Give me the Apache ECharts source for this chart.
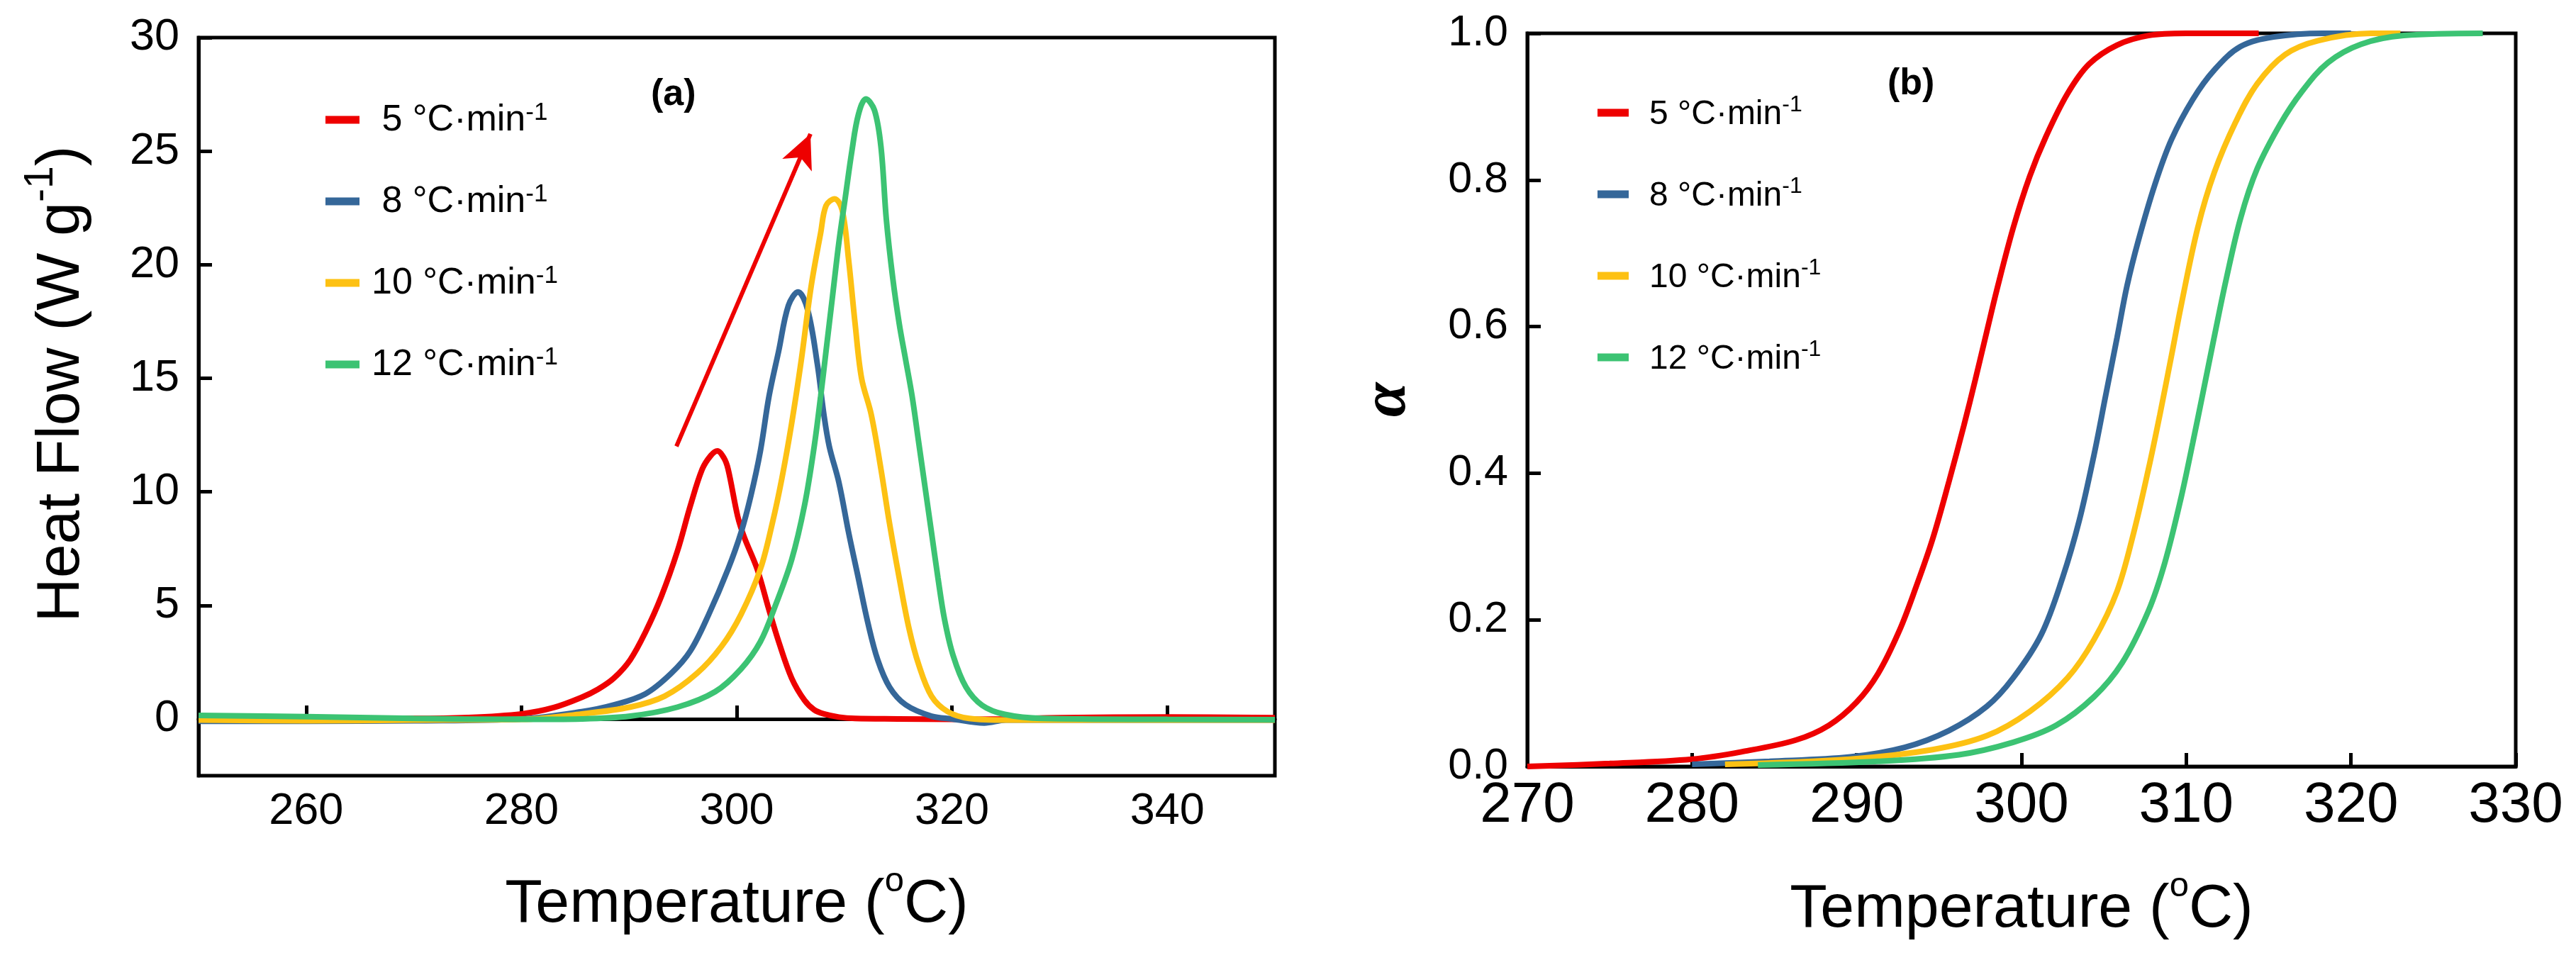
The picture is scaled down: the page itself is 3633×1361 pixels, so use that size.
<!DOCTYPE html>
<html>
<head>
<meta charset="utf-8">
<script src="https://cdn.jsdelivr.net/npm/echarts@6.0.0/dist/echarts.min.js"></script>
<style>
html, body { margin: 0; padding: 0; background: #fff; }
#main { width: 3633px; height: 1361px; }
</style>
</head>
<body>
<div id="main"></div>
<script>
// heating rates and their colours
var rates = ['5', '8', '10', '12'];
var colors = ['#ee0000', '#356799', '#fdc113', '#3cc373'];

// (a) DSC heat flow, W/g
var t5  = [250, 260, 270, 275, 280, 283, 285.6, 287.1, 288.6, 290.1, 291.5, 293.0, 294.5, 295.7, 296.8, 297.6, 298.2, 298.8, 299.2, 300.1, 300.7, 301.9, 303.0, 303.9, 305.1, 306.3, 307.2, 308.1, 309.5, 311, 315, 320, 325, 330, 340, 350];
var hf5 = [0.05, 0.03, 0.02, 0.06, 0.22, 0.5, 0.95, 1.3, 1.8, 2.6, 3.8, 5.4, 7.4, 9.4, 11.0, 11.6, 11.8, 11.5, 11.0, 8.9, 8.0, 6.6, 4.8, 3.4, 1.8, 0.82, 0.4, 0.22, 0.08, 0.02, 0, -0.02, 0, 0.05, 0.08, 0.05];

var t8  = [250, 260, 270, 280, 285.6, 288.6, 291.5, 293.9, 295.7, 297.4, 299.2, 300.4, 301.3, 302.2, 303.0, 303.9, 304.8, 305.7, 306.6, 307.5, 308.1, 308.6, 309.5, 310.4, 311.3, 312.2, 313.1, 314.2, 315.7, 318.1, 320, 323, 325, 330, 340, 350];
var hf8 = [-0.1, -0.1, -0.08, 0.0, 0.32, 0.62, 1.1, 2.0, 3.0, 4.6, 6.6, 8.2, 9.8, 11.8, 14.2, 16.2, 18.2, 18.8, 18.0, 15.6, 13.4, 12.0, 10.4, 8.2, 6.2, 4.2, 2.6, 1.4, 0.62, 0.12, 0.0, -0.18, -0.05, -0.05, -0.05, -0.05];

var t10  = [250, 260, 270, 280, 285.6, 290.1, 293.3, 296.3, 298.6, 300.4, 302.2, 303.3, 304.2, 305.1, 306.0, 306.9, 307.8, 308.3, 309.1, 309.8, 310.4, 311.0, 311.6, 312.5, 313.4, 314.2, 315.1, 316.0, 316.9, 318.1, 319.6, 321.6, 325, 330, 350];
var hf10 = [-0.05, -0.08, -0.05, -0.02, 0.22, 0.52, 1.0, 2.0, 3.2, 4.6, 6.6, 8.6, 10.6, 13.0, 15.8, 19.0, 21.4, 22.6, 22.9, 22.4, 20.2, 17.4, 15.0, 13.4, 11.0, 8.6, 6.2, 4.0, 2.4, 1.0, 0.32, 0.02, -0.05, -0.05, -0.05];

var t12  = [250, 260, 270, 280, 285.6, 290.1, 294.5, 298.0, 300.4, 302.2, 303.6, 305.1, 306.3, 307.2, 307.8, 308.3, 308.9, 309.5, 310.1, 310.7, 311.3, 312.0, 312.8, 313.4, 313.9, 314.5, 315.1, 315.7, 316.3, 316.9, 317.5, 318.1, 318.7, 319.3, 320.1, 321.3, 322.8, 324.9, 328.4, 340, 350];
var hf12 = [0.15, 0.1, 0.02, -0.02, 0.0, 0.12, 0.52, 1.2, 2.2, 3.4, 5.0, 7.0, 9.4, 12.0, 14.2, 16.2, 18.6, 21.0, 23.0, 25.0, 26.6, 27.3, 26.8, 25.2, 22.0, 19.4, 17.4, 15.8, 14.2, 12.2, 10.2, 8.2, 6.2, 4.4, 2.8, 1.4, 0.6, 0.2, 0.02, -0.02, -0.03];

// (b) conversion alpha
var ta5 = [270, 275, 280, 283.0, 286.3, 288.3, 290.0, 291.3, 292.6, 293.6, 294.6, 295.6, 296.5, 297.2, 297.9, 298.5, 299.5, 300.5, 301.5, 302.8, 304.1, 305.8, 307.7, 310, 314.4];
var a5  = [0.0, 0.004, 0.010, 0.020, 0.036, 0.056, 0.088, 0.127, 0.186, 0.245, 0.31, 0.389, 0.465, 0.528, 0.594, 0.65, 0.735, 0.805, 0.86, 0.918, 0.958, 0.984, 0.997, 1.0, 1.0];

var ta8 = [280, 284.7, 289.6, 292.9, 295.6, 297.9, 299.5, 301.2, 302.5, 303.5, 304.4, 305.1, 305.8, 306.4, 307.1, 308.1, 309.1, 310.4, 311.7, 313.3, 315.3, 318.3, 320];
var a8  = [0.003, 0.007, 0.013, 0.026, 0.049, 0.082, 0.121, 0.18, 0.258, 0.335, 0.425, 0.505, 0.585, 0.655, 0.718, 0.794, 0.855, 0.91, 0.95, 0.982, 0.995, 1.0, 1.0];

var ta10 = [282, 289.6, 294.6, 297.9, 300.5, 302.8, 304.4, 305.8, 306.8, 307.7, 308.4, 309.1, 309.7, 310.7, 311.7, 313.0, 314.3, 316.0, 318.0, 321.2, 323];
var a10  = [0.003, 0.01, 0.023, 0.042, 0.075, 0.121, 0.173, 0.239, 0.318, 0.405, 0.48, 0.56, 0.63, 0.735, 0.81, 0.879, 0.931, 0.971, 0.99, 1.0, 1.0];

var ta12 = [284, 291.3, 296.2, 299.5, 302.1, 304.4, 306.1, 307.7, 308.7, 309.7, 310.4, 311.0, 311.7, 312.4, 313.3, 314.3, 315.7, 317.0, 318.6, 320.6, 323.2, 328.0];
var a12  = [0.002, 0.007, 0.016, 0.033, 0.056, 0.095, 0.141, 0.212, 0.278, 0.368, 0.442, 0.508, 0.586, 0.662, 0.748, 0.815, 0.876, 0.92, 0.96, 0.985, 0.997, 1.0];

// axis ticks
var hfTicks = [0, 5, 10, 15, 20, 25, 30];
var tTicksA = [260, 280, 300, 320, 340];

// arrow in panel (a), data coords (tail, tip)
var arrowFrom = [294.4, 12.0];
var arrowTo = [306.85, 25.76];

var FONT = 'Liberation Sans';
var LW = 8;
var heatX = [t5, t8, t10, t12];
var heatY = [hf5, hf8, hf10, hf12];
var alphaX = [ta5, ta8, ta10, ta12];
var alphaY = [a5, a8, a10, a12];

function zip(xs, ys) {
    var out = [];
    for (var i = 0; i < xs.length; i++) out.push([xs[i], ys[i]]);
    return out;
}
function seriesName(r) { return r + ' °C·min-1'; }

var axisBase = {
    axisLine: { lineStyle: { color: '#000', width: 5 } },
    splitLine: { show: false }
};

var tickStyle = { inside: true, length: 19, lineStyle: { color: '#000', width: 5 } };

var xName = {
    name: '{a|Temperature (}{s|o}{a|C)}',
    nameLocation: 'middle',
    nameTextStyle: {
        rich: {
            a: { fontFamily: FONT, fontSize: 86, color: '#000', lineHeight: 100, verticalAlign: 'bottom' },
            s: { fontFamily: FONT, fontSize: 49, color: '#000', lineHeight: 57, verticalAlign: 'top' }
        }
    }
};

function legendCfg(left, top, w, pad, fs, leadSpace) {
    return {
        orient: 'vertical',
        left: left,
        top: top,
        icon: 'rect',
        itemWidth: w,
        itemHeight: 11,
        itemGap: 115 - 54,
        data: rates.map(seriesName),
        formatter: function (name) {
            var r = name.split(' ')[0];
            if (leadSpace && r.length === 1) r = ' ' + r;
            return '{t|' + r + ' °C·min}{s|-1}';
        },
        textStyle: {
            rich: {
                t: { fontFamily: FONT, fontSize: fs, color: '#000', lineHeight: 54, verticalAlign: 'bottom', padding: [0, 0, 0, pad] },
                s: { fontFamily: FONT, fontSize: Math.round(fs * 0.67), color: '#000', lineHeight: 34, verticalAlign: 'top' }
            }
        }
    };
}

var series = [];
rates.forEach(function (r, i) {
    var s = {
        name: seriesName(r),
        type: 'line',
        xAxisIndex: 0,
        yAxisIndex: 0,
        data: zip(heatX[i], heatY[i]),
        showSymbol: false,
        smooth: 0.35,
        color: colors[i],
        lineStyle: { width: LW, color: colors[i] }
    };
    if (i === 0) {
        s.markLine = {
            silent: true,
            symbol: ['none', 'arrow'],
            symbolSize: [34, 48],
            label: { show: false },
            lineStyle: { color: '#ee0000', width: 6, type: 'solid' },
            data: [[{ coord: arrowFrom }, { coord: arrowTo }]]
        };
    }
    series.push(s);
});
rates.forEach(function (r, i) {
    series.push({
        name: seriesName(r),
        type: 'line',
        xAxisIndex: 1,
        yAxisIndex: 1,
        data: zip(alphaX[i], alphaY[i]),
        showSymbol: false,
        smooth: 0.35,
        color: colors[i],
        lineStyle: { width: LW, color: colors[i] }
    });
});

var myChart = echarts.init(document.getElementById('main'));
var option = {
    animation: false,
    backgroundColor: '#fff',
    grid: [
        { left: 280, top: 53, width: 1518, height: 1041, show: true, borderColor: '#000', borderWidth: 5 },
        { left: 2154, top: 47, width: 1394, height: 1034, show: true, borderColor: '#000', borderWidth: 5 }
    ],
    legend: [legendCfg(454, 137, 48, 12, 52, true), legendCfg(2248, 127, 44, 24, 48, false)],
    xAxis: [
        Object.assign({}, axisBase, xName, {
            gridIndex: 0, type: 'value', min: 250, max: 350, nameGap: 125,
            axisTick: Object.assign({ customValues: tTicksA }, tickStyle),
            axisLabel: { customValues: tTicksA, fontFamily: FONT, fontSize: 63, color: '#000', margin: 19 }
        }),
        Object.assign({}, axisBase, xName, {
            gridIndex: 1, type: 'value', min: 270, max: 330, interval: 10, nameGap: 145,
            axisTick: tickStyle,
            axisLabel: { fontFamily: FONT, fontSize: 80, color: '#000', margin: 16 }
        })
    ],
    yAxis: [
        Object.assign({}, axisBase, {
            gridIndex: 0, type: 'value', min: -2.5, max: 30,
            axisTick: Object.assign({ customValues: hfTicks }, tickStyle),
            axisLabel: { customValues: hfTicks, fontFamily: FONT, fontSize: 63, color: '#000', margin: 27 },
            name: '{a|Heat Flow (W g}{s|-1}{a|)}',
            nameLocation: 'middle',
            nameGap: 150,
            nameTextStyle: {
                padding: [0, 0, 0, 64],
                rich: {
                    a: { fontFamily: FONT, fontSize: 86, color: '#000', lineHeight: 100, verticalAlign: 'bottom' },
                    s: { fontFamily: FONT, fontSize: 57, color: '#000', lineHeight: 60, verticalAlign: 'top' }
                }
            }
        }),
        Object.assign({}, axisBase, {
            gridIndex: 1, type: 'value', min: 0, max: 1, interval: 0.2,
            axisTick: tickStyle,
            axisLabel: {
                fontFamily: FONT, fontSize: 61, color: '#000', margin: 27,
                formatter: function (v) { return v.toFixed(1); }
            },
            name: 'α',
            nameLocation: 'middle',
            nameGap: 152,
            nameTextStyle: { fontFamily: 'Liberation Serif', fontStyle: 'italic', fontWeight: 'bold', fontSize: 88, color: '#000' }
        })
    ],
    graphic: [
        { type: 'text', left: 918, top: 108, style: { text: '(a)', font: 'bold 52px "Liberation Sans"', fill: '#000' } },
        { type: 'text', left: 2662, top: 93, style: { text: '(b)', font: 'bold 52px "Liberation Sans"', fill: '#000' } }
    ],
    series: series
};
myChart.setOption(option);
</script>
</body>
</html>
